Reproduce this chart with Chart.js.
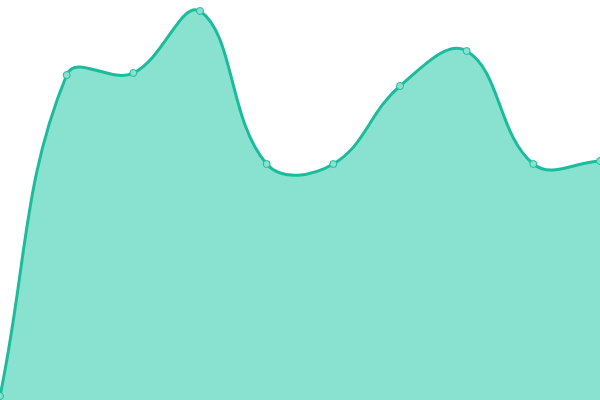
<!DOCTYPE html>
<html>
<head>
<meta charset="utf-8">
<script src="https://cdn.jsdelivr.net/npm/chart.js@4"></script>
<style>
  html, body { margin: 0; padding: 0; background: #fff; }
  #wrap { width: 600px; height: 400px; }
</style>
</head>
<body>
<div id="wrap"><canvas id="myChart"></canvas></div>
<script>
var labels = ["1", "2", "3", "4", "5", "6", "7", "8", "9", "10"];
var values = [1, 81.25, 81.75, 97.25, 59, 59, 78.5, 87.25, 59, 59.75];

var ctx = document.getElementById('myChart').getContext('2d');
var myLineChart = new Chart(ctx, {
    type: 'line',
    data: {
        labels: labels,
        datasets: [{
            data: values,
            backgroundColor: 'rgba(20,196,160,0.5)',
            borderColor: 'rgb(26,188,156)',
            borderWidth: 3,
            pointRadius: 3.5,
            pointBackgroundColor: 'rgb(137,224,206)',
            pointBorderColor: 'rgb(26,188,156)',
            pointBorderWidth: 1,
            tension: 0.4,
            fill: true,
            clip: false
        }]
    },
    options: {
        responsive: true,
        maintainAspectRatio: false,
        animation: false,
        layout: { padding: 0, autoPadding: false },
        plugins: { legend: { display: false }, tooltip: { enabled: false } },
        scales: {
            x: { display: false },
            y: { display: false, min: 0, max: 100 }
        }
    }
});
</script>
</body>
</html>
